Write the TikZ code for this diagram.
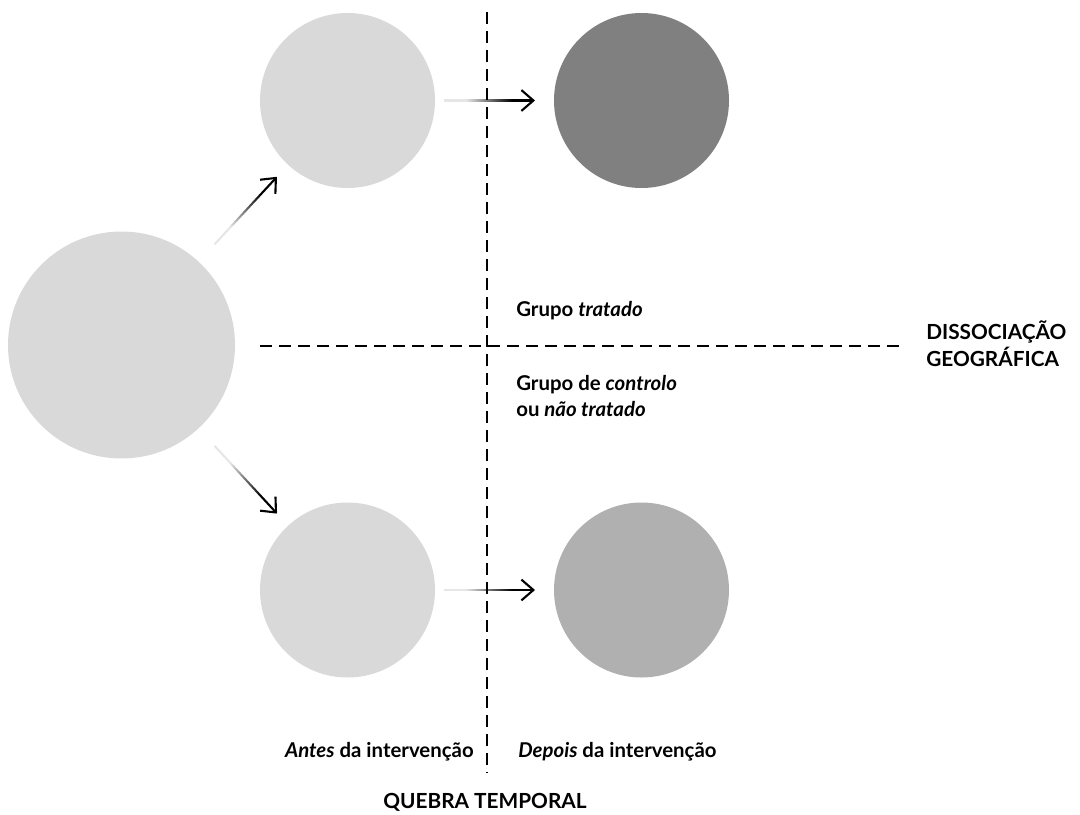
\documentclass[tikz,border=0pt]{standalone}
\usepackage{fontspec}
\setmainfont{Lato}
\usepackage{xcolor}
\usepackage{tikz}
\usetikzlibrary{positioning, fadings}
\usetikzlibrary{arrows.meta}
\tikzset{>={Straight Barb[length=3mm,width=5.2mm]}}
\definecolor{cinzaclaro}{HTML}{D9D9D9}
\definecolor{cinzaescuro}{HTML}{808080}
\definecolor{cinzamedio}{HTML}{B0B0B0}
\tikzfading[name=fadeseta, left color=transparent!90, middle color=transparent!0, right color=transparent!0]

\begin{document}
\begin{tikzpicture}[bola/.style={circle, draw=none, fill=cinzaclaro, inner sep=0pt, outer sep=0pt, minimum size=4.375cm}, bigbola/.style={bola, minimum size=5.675cm}, rotulo/.style={inner sep=0pt, align=left, font=\fontsize{14.5pt}{18pt}\selectfont\bfseries}, eixo/.style={inner sep=0pt, align=left, font=\fontsize{14.8pt}{19.2pt}\selectfont\bfseries}, seta/.style={->, line width=1.5pt, path fading=fadeseta, fit fading=false}, corte/.style={line width=1.7pt, dash pattern=on 3mm off 1.75mm}]

    \useasboundingbox (0,0) rectangle (27,-20.35);

    %Nodes
    \node[bigbola](pop) at (3.0375,-8.625){};
    \node[bola](tratA) at (8.6875,-2.5125){};
    \node[bola, fill=cinzaescuro](tratD)[right=2.975cm of tratA]{};
    \node[bola](contA)[below=7.8625cm of tratA]{};
    \node[bola, fill=cinzamedio](contD)[right=2.975cm of contA]{};

    \coordinate (tempoN) at (12.1675,-0.3);
    \coordinate (tempoS) at (12.1675,-19.325);
    \coordinate (geoW) at (6.5,-8.6425);
    \coordinate (geoE) at (22.625,-8.6425);

    \node[rotulo, anchor=base west](tratado) at (12.9,-7.9){Grupo \textit{tratado}};
    \node[rotulo, anchor=base west](controlo) at (12.9,-10.4){Grupo de \textit{controlo}\\ou \textit{não tratado}};
    \node[eixo, anchor=base west](geo) at (23.15,-9.15){DISSOCIAÇÃO\\GEOGRÁFICA};
    \node[rotulo, anchor=base east](antes) at (11.85,-18.925){\textit{Antes} da intervenção};
    \node[rotulo, anchor=base west](depois) at (12.95,-18.925){\textit{Depois} da intervenção};
    \node[eixo, anchor=base](tempo) at (12.125,-20.2){QUEBRA TEMPORAL};

    %Lines
    \draw[corte] (tempoN) -- (tempoS);
    \draw[corte] (geoW) -- (geoE);
    \draw[seta, shorten <=0.59cm, shorten >=0.41cm, fading transform={shift={(6.1375,-5.2625)}, rotate=45, xscale=0.652}] (pop) -- (tratA);
    \draw[seta, shorten <=0.59cm, shorten >=0.41cm, fading transform={shift={(6.1375,-11.9875)}, rotate=-45, xscale=0.652}] (pop) -- (contA);
    \draw[seta, shorten <=0.2cm, shorten >=0.475cm, fading transform={shift={(12.225,-2.5125)}, xscale=0.652}] (tratA) -- (tratD);
    \draw[seta, shorten <=0.2cm, shorten >=0.475cm, fading transform={shift={(12.225,-14.75)}, xscale=0.652}] (contA) -- (contD);

\end{tikzpicture}
\end{document}
